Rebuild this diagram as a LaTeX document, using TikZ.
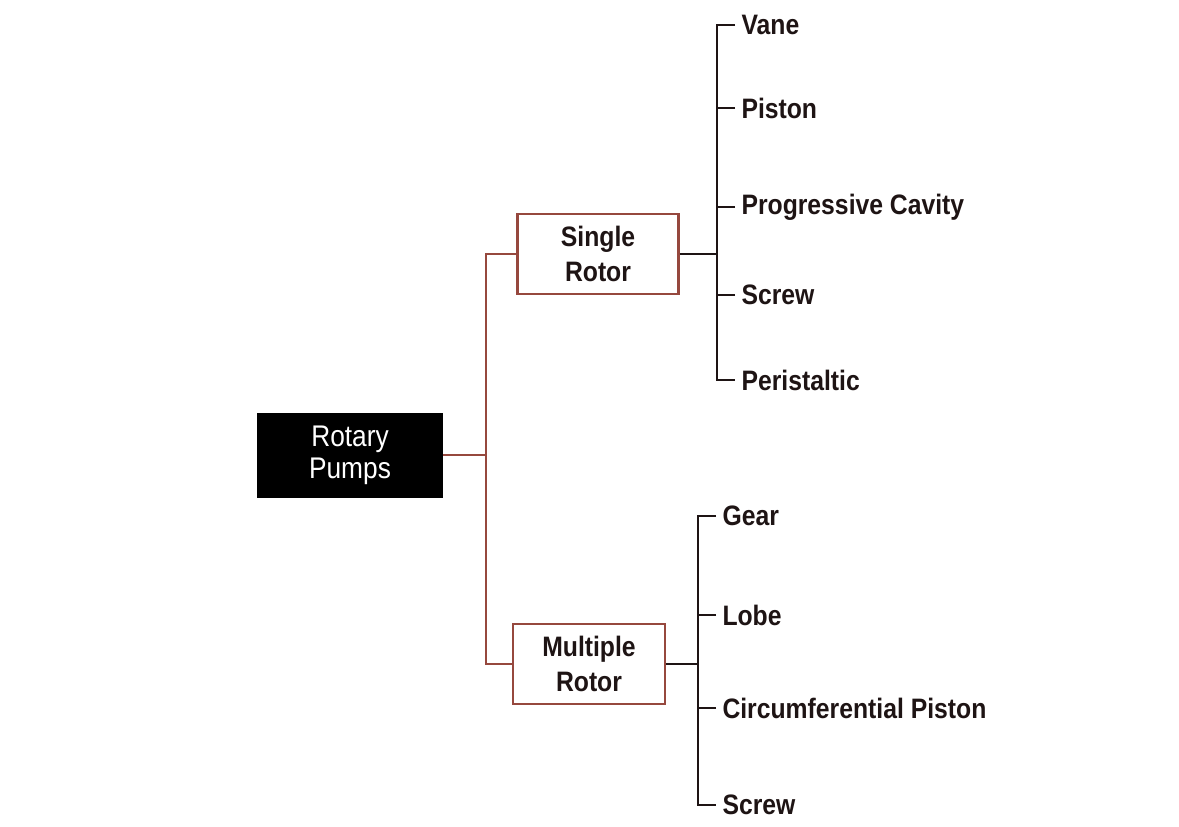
\documentclass[tikz,border=0pt]{standalone}
\usepackage{fontspec}
\setmainfont{Liberation Sans}[FakeStretch=0.88]
\usepackage{xcolor}
\usepackage{tikz}
\usetikzlibrary{positioning,calc}
\definecolor{trunkRed}{RGB}{150,72,62}
\definecolor{inkDark}{RGB}{30,20,20}

\begin{document}
\begin{tikzpicture}[x=0.02cm,y=-0.02cm,
    every node/.style={font=\bfseries\fontsize{16}{20}\selectfont,text=inkDark},
    groupbox/.style={draw=trunkRed,line width=1.5pt,minimum width=3.1cm,minimum height=1.6cm,align=center,inner sep=0pt},
    rootbox/.style={fill=black,minimum width=3.72cm,minimum height=1.7cm,align=center,inner sep=0pt,
      font=\fontsize{17}{18}\selectfont,text=white},
    leaf/.style={anchor=west,inner xsep=3.5pt,inner ysep=0pt},
    tree/.style={draw=trunkRed,line width=1.4pt},
    brace/.style={draw=inkDark,line width=1.4pt}]
  \useasboundingbox (0,0) rectangle (1179,826);
  % main boxes
  \node[rootbox] (rotary) at (350,455) {Rotary\\Pumps};
  \node[groupbox,minimum width=3.22cm] (single) at (598,254) {Single\\Rotor};
  \node[groupbox,minimum width=3.04cm] (multi) at (589,664) {Multiple\\Rotor};
  % leaves of the single rotor group
  \foreach \name/\txt/\yy in {vane/Vane/25,piston/Piston/108,pcav/Progressive Cavity/207,sscrew/Screw/295,peri/Peristaltic/380}
    \node[leaf] (\name) at (735,\yy) {\txt};
  % leaves of the multiple rotor group
  \foreach \name/\txt/\yy in {gear/Gear/516,lobe/Lobe/615,circ/Circumferential Piston/708,mscrew/Screw/805}
    \node[leaf] (\name) at (716,\yy) {\txt};
  \coordinate (trunk) at (486,455);
  \coordinate (sbar) at (717,254);
  \coordinate (mbar) at (698,664);
  % trunk
  \draw[tree] (rotary.east) -- (trunk);
  \draw[tree] (single.west) -| (trunk) |- (multi.west);
  % brackets
  \draw[brace] (single.east) -- (sbar);
  \draw[brace] (vane.west) -| (sbar) |- (peri.west);
  \foreach \n in {piston,pcav,sscrew}
    \draw[brace] (\n.west) -- (\n.west -| sbar);
  \draw[brace] (multi.east) -- (mbar);
  \draw[brace] (gear.west) -| (mbar) |- (mscrew.west);
  \foreach \n in {lobe,circ}
    \draw[brace] (\n.west) -- (\n.west -| mbar);
\end{tikzpicture}
\end{document}
